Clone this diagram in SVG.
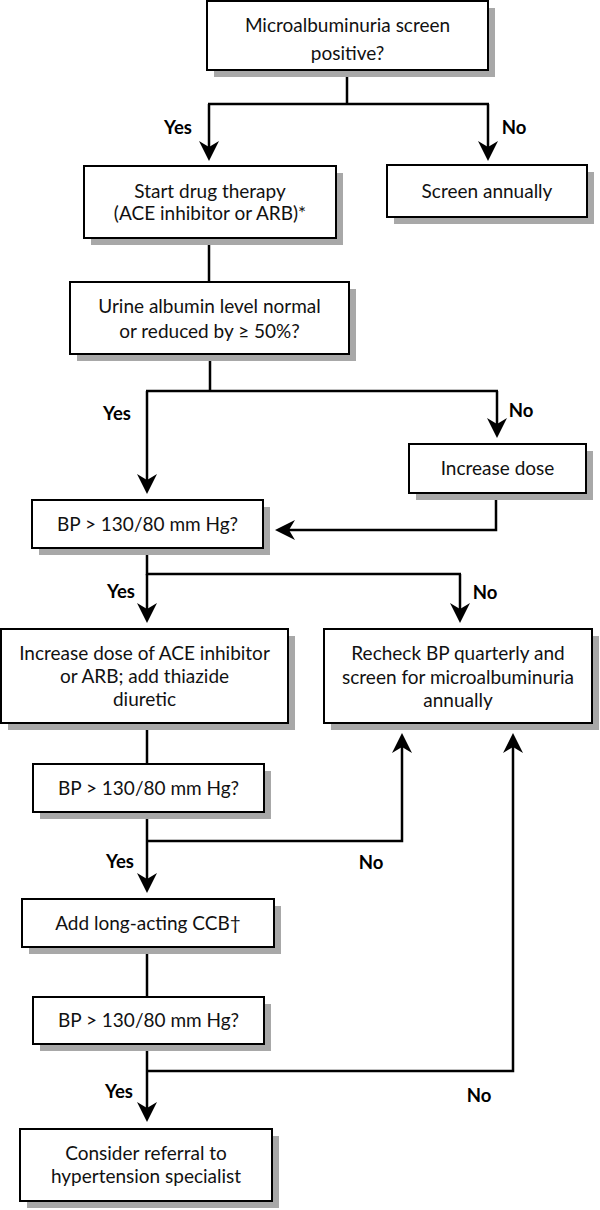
<svg xmlns="http://www.w3.org/2000/svg" width="600" height="1210" viewBox="0 0 600 1210">
<style>
.bg{fill:#ffffff}
.sh{fill:#a8a8a8}
.bx{fill:#ffffff;stroke:#000;stroke-width:2}
.t{font-family:Lato,"Open Sans","Liberation Sans",sans-serif;font-size:19px;fill:#111;text-anchor:middle}
.lb{font-family:Lato,"Liberation Sans",sans-serif;font-size:18.5px;font-weight:bold;fill:#000;text-anchor:middle}
.ln{fill:none;stroke:#000;stroke-width:2.5}
.ar{fill:none;stroke:#000;stroke-width:2.5;marker-end:url(#ah)}
</style>
<defs>
<marker id="ah" markerUnits="userSpaceOnUse" markerWidth="22" markerHeight="22" viewBox="0 -11 22 22" refX="6" refY="0" orient="auto">
<path d="M20,0 L0,-10 L6,0 L0,10 Z" fill="#000"/>
</marker>
</defs>
<rect class="bg" x="0" y="0" width="600" height="1210"/>

<g id="connectors">
<path class="ln" d="M347,70 V104 M208,104 H489"/>
<path class="ar" d="M209,104 V147"/>
<path class="ar" d="M488,104 V147"/>
<path class="ln" d="M209,238 V282"/>
<path class="ln" d="M210,354 V391 M146,391 H498"/>
<path class="ar" d="M147,391 V480"/>
<path class="ar" d="M497,391 V424"/>
<path class="ar" d="M496,493 V530 H289"/>
<path class="ln" d="M147,548 V574 H461"/>
<path class="ar" d="M147,574 V609"/>
<path class="ar" d="M460,574 V609"/>
<path class="ln" d="M147,723 V764"/>
<path class="ar" d="M147,812 V879"/>
<path class="ar" d="M147,841 H402 V747"/>
<path class="ln" d="M147,947 V997"/>
<path class="ar" d="M147,1044 V1108"/>
<path class="ar" d="M147,1071 H513 V747"/>
<text class="lb" x="178" y="134">Yes</text>
<text class="lb" x="514" y="134">No</text>
<text class="lb" x="117" y="420">Yes</text>
<text class="lb" x="521" y="417">No</text>
<text class="lb" x="121" y="598">Yes</text>
<text class="lb" x="485" y="599">No</text>
<text class="lb" x="120" y="868">Yes</text>
<text class="lb" x="371" y="869">No</text>
<text class="lb" x="119" y="1098">Yes</text>
<text class="lb" x="479" y="1102">No</text>
</g>

<g id="n1">
<rect class="sh" x="214" y="8" width="281" height="69"/>
<rect class="bx" x="207" y="1" width="281" height="69"/>
<text class="t" x="347.5" y="32">Microalbuminuria screen</text>
<text class="t" x="347.5" y="60">positive?</text>
</g>

<g id="n2">
<rect class="sh" x="91" y="173" width="252" height="72"/>
<rect class="bx" x="84" y="166" width="252" height="72"/>
<text class="t" x="210" y="198">Start drug therapy</text>
<text class="t" x="210" y="220">(ACE inhibitor or ARB)*</text>
</g>

<g id="n3">
<rect class="sh" x="394" y="172" width="200" height="52"/>
<rect class="bx" x="387" y="165" width="200" height="52"/>
<text class="t" x="487" y="198">Screen annually</text>
</g>

<g id="n4">
<rect class="sh" x="77" y="289" width="279" height="72"/>
<rect class="bx" x="70" y="282" width="279" height="72"/>
<text class="t" x="209.5" y="313">Urine albumin level normal</text>
<text class="t" x="209.5" y="338">or reduced by ≥ 50%?</text>
</g>

<g id="n5">
<rect class="sh" x="416" y="451" width="177" height="49"/>
<rect class="bx" x="409" y="444" width="177" height="49"/>
<text class="t" x="497.5" y="475">Increase dose</text>
</g>

<g id="n6">
<rect class="sh" x="39" y="507" width="231" height="48"/>
<rect class="bx" x="32" y="500" width="231" height="48"/>
<text class="t" x="147.5" y="531">BP &gt; 130/80 mm Hg?</text>
</g>

<g id="n7">
<rect class="sh" x="8" y="636" width="287" height="94"/>
<rect class="bx" x="1" y="629" width="287" height="94"/>
<text class="t" x="144.5" y="660">Increase dose of ACE inhibitor</text>
<text class="t" x="144.5" y="683">or ARB; add thiazide</text>
<text class="t" x="144.5" y="706">diuretic</text>
</g>

<g id="n8">
<rect class="sh" x="331" y="636" width="268" height="94"/>
<rect class="bx" x="324" y="629" width="268" height="94"/>
<text class="t" x="458" y="660">Recheck BP quarterly and</text>
<text class="t" x="458" y="684">screen for microalbuminuria</text>
<text class="t" x="458" y="707">annually</text>
</g>

<g id="n9">
<rect class="sh" x="40" y="771" width="231" height="48"/>
<rect class="bx" x="33" y="764" width="231" height="48"/>
<text class="t" x="148.5" y="795">BP &gt; 130/80 mm Hg?</text>
</g>

<g id="n10">
<rect class="sh" x="29" y="906" width="252" height="48"/>
<rect class="bx" x="22" y="899" width="252" height="48"/>
<text class="t" x="148" y="930">Add long-acting CCB†</text>
</g>

<g id="n11">
<rect class="sh" x="40" y="1004" width="231" height="47"/>
<rect class="bx" x="33" y="997" width="231" height="47"/>
<text class="t" x="148.5" y="1027">BP &gt; 130/80 mm Hg?</text>
</g>

<g id="n12">
<rect class="sh" x="27" y="1136" width="252" height="72"/>
<rect class="bx" x="20" y="1129" width="252" height="72"/>
<text class="t" x="146" y="1160">Consider referral to</text>
<text class="t" x="146" y="1183">hypertension specialist</text>
</g>
</svg>
